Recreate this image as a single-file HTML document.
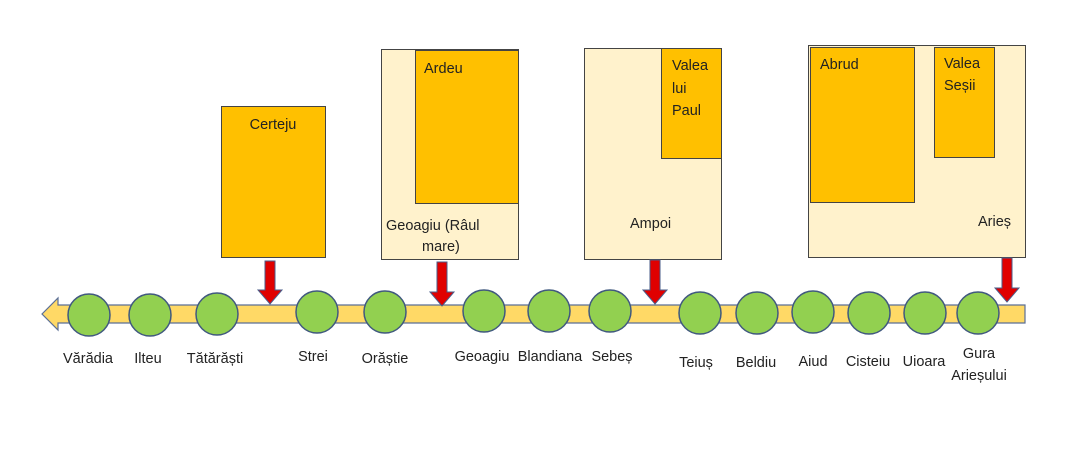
<!DOCTYPE html>
<html><head><meta charset="utf-8"><style>
body{margin:0;background:#fff;}
svg text{font-family:"Liberation Sans",sans-serif;font-size:14.5px;fill:#222;}
</style></head><body>
<svg width="1080" height="463" viewBox="0 0 1080 463" xmlns="http://www.w3.org/2000/svg">
<rect x="221.5" y="106.5" width="104" height="151" fill="#FFC000" stroke="#444" stroke-width="1"/>
<text x="273" y="129" text-anchor="middle">Certeju</text>

<rect x="381.5" y="49.5" width="137" height="210" fill="#FFF2CC" stroke="#444"/>
<rect x="415.5" y="50.5" width="103" height="153" fill="#FFC000" stroke="#444"/>
<text x="424" y="73">Ardeu</text>
<text x="386" y="230">Geoagiu (Râul</text>
<text x="422" y="251">mare)</text>

<rect x="584.5" y="48.5" width="137" height="211" fill="#FFF2CC" stroke="#444"/>
<rect x="661.5" y="48.5" width="60" height="110" fill="#FFC000" stroke="#444"/>
<text x="672" y="70">Valea</text>
<text x="672" y="93">lui</text>
<text x="672" y="115">Paul</text>
<text x="630" y="228">Ampoi</text>

<rect x="808.5" y="45.5" width="217" height="212" fill="#FFF2CC" stroke="#444"/>
<rect x="810.5" y="47.5" width="104" height="155" fill="#FFC000" stroke="#444"/>
<rect x="934.5" y="47.5" width="60" height="110" fill="#FFC000" stroke="#444"/>
<text x="820" y="69">Abrud</text>
<text x="944" y="68">Valea</text>
<text x="944" y="90">Seșii</text>
<text x="978" y="226">Arieș</text>

<polygon points="42,314 58,298 58,305 1025,305 1025,323 58,323 58,330" fill="#FFD966" stroke="#5b6f96" stroke-width="1.2"/>

<g fill="#E00000" stroke="#4a5d8a" stroke-width="1">
<polygon points="265,261 275,261 275,290 282,290 270,304 258,290 265,290"/>
<polygon points="437,262 447,262 447,292 454,292 442,306 430,292 437,292"/>
<polygon points="650,260 660,260 660,290 667,290 655,304 643,290 650,290"/>
<polygon points="1002,258 1012,258 1012,288 1019,288 1007,302 995,288 1002,288"/>
</g>

<g fill="#92D050" stroke="#41597f" stroke-width="1.5">
<circle cx="89" cy="315" r="21"/>
<circle cx="150" cy="315" r="21"/>
<circle cx="217" cy="314" r="21"/>
<circle cx="317" cy="312" r="21"/>
<circle cx="385" cy="312" r="21"/>
<circle cx="484" cy="311" r="21"/>
<circle cx="549" cy="311" r="21"/>
<circle cx="610" cy="311" r="21"/>
<circle cx="700" cy="313" r="21"/>
<circle cx="757" cy="313" r="21"/>
<circle cx="813" cy="312" r="21"/>
<circle cx="869" cy="313" r="21"/>
<circle cx="925" cy="313" r="21"/>
<circle cx="978" cy="313" r="21"/>
</g>

<text x="88" y="363" text-anchor="middle">Vărădia</text>
<text x="148" y="363" text-anchor="middle">Ilteu</text>
<text x="215" y="363" text-anchor="middle">Tătărăști</text>
<text x="313" y="361" text-anchor="middle">Strei</text>
<text x="385" y="363" text-anchor="middle">Orăștie</text>
<text x="482" y="361" text-anchor="middle">Geoagiu</text>
<text x="550" y="361" text-anchor="middle">Blandiana</text>
<text x="612" y="361" text-anchor="middle">Sebeș</text>
<text x="696" y="367" text-anchor="middle">Teiuș</text>
<text x="756" y="367" text-anchor="middle">Beldiu</text>
<text x="813" y="366" text-anchor="middle">Aiud</text>
<text x="868" y="366" text-anchor="middle">Cisteiu</text>
<text x="924" y="366" text-anchor="middle">Uioara</text>
<text x="979" y="358" text-anchor="middle">Gura</text>
<text x="979" y="380" text-anchor="middle">Arieșului</text>
</svg>
</body></html>
